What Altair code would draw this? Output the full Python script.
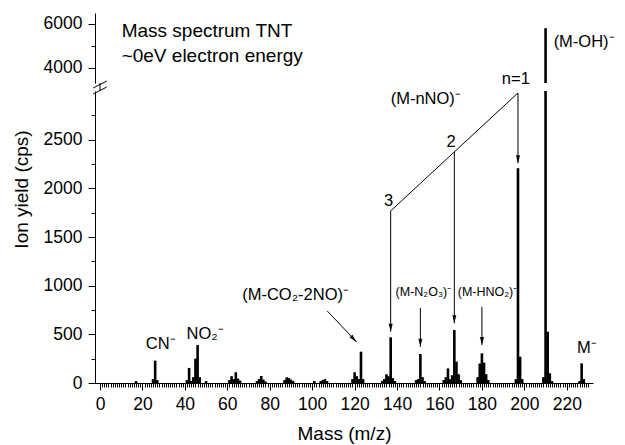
import altair as alt
import pandas as pd

# ---------------- data ----------------
mass = [17, 25, 26, 27, 41, 42, 43, 44, 45, 46, 47, 50,
        61, 62, 63, 64, 65, 66, 74, 75, 76, 77, 78,
        87, 88, 89, 90, 91, 101, 104, 105, 106, 107,
        119, 120, 121, 122, 123, 124,
        133, 134, 135, 136, 137, 138, 139,
        149, 150, 151, 152, 153,
        162, 163, 164, 165, 166, 167, 168, 169, 170,
        178, 179, 180, 181, 182, 183,
        196, 197, 198, 199,
        209, 210, 211, 212, 213,
        226, 227, 228]
cps = [20, 40, 230, 30, 30, 155, 20, 60, 250, 390, 60, 20,
       30, 70, 40, 110, 45, 25, 20, 40, 72, 35, 15,
       30, 58, 50, 35, 20, 20, 20, 30, 40, 20,
       40, 110, 70, 40, 322, 40,
       20, 40, 90, 70, 470, 50, 20,
       30, 40, 298, 60, 20,
       30, 60, 150, 40, 80, 545, 220, 90, 30,
       60, 200, 305, 210, 90, 30,
       40, 2207, 270, 40,
       60, 5805, 527, 100, 20,
       20, 202, 40]

x_major = list(range(0, 221, 20))
x_minor = list(range(0, 231, 1))
y_major_low = [0, 500, 1000, 1500, 2000, 2500]
y_minor_low = [250, 750, 1250, 1750, 2250, 2750]
y_major_hi = [4000, 6000]
y_minor_hi = [5000]

# annotation texts
lab_text = ["CN⁻", "NO₂⁻", "(M-CO₂-2NO)⁻", "(M-nNO)⁻", "n=1", "2", "3",
            "(M-OH)⁻", "M⁻", "(M-N₂O₃)⁻", "(M-HNO₂)⁻",
            "Mass spectrum TNT", "~0eV electron energy"]
lab_x = [21.6, 40.8, 67.0, 137.0, 189.4, 163.3, 133.9,
         213.8, 224.8, 139.3, 168.6, 10.2, 10.2]
lab_y = [349, 452, 853, 2866, 3072, 2425, 1819,
         3452, 308, 894, 894, 3555, 3298]
lab_size = [16.5, 16.5, 16.5, 16.5, 16.5, 16.5, 16.5,
            16.5, 16.5, 12.5, 12.5, 19, 19]

# annotation line segments (mass, cps)
seg_x = [197, 197, 167, 137, 151, 180, 107.1]
seg_y = [2980, 2980, 2374, 1768, 771, 781, 740]
seg_x2 = [137, 197, 167, 137, 151, 180, 121.0]
seg_y2 = [1768, 2258, 614, 527, 373, 391, 421]

# arrow heads
head_x = [197, 167, 137, 151, 180, 119.6]
head_y = [2299, 655, 568, 414, 432, 451]
head_angle = [0, 0, 0, 0, 0, 316]

# axis break marks
brk_x = [0, -3.2, -3.2]
brk_y = [3000, 2969, 3031]
brk_x2 = [0, 3.2, 3.2]
brk_y2 = [3082, 3041, 3103]

FONT = "Liberation Sans"

spec = pd.DataFrame({"mass": mass, "cps": cps})
labels = pd.DataFrame({"x": lab_x, "y": lab_y, "text": lab_text, "size": lab_size})
segs = pd.DataFrame({"x": seg_x, "y": seg_y, "x2": seg_x2, "y2": seg_y2})
heads = pd.DataFrame({"x": head_x, "y": head_y, "angle": head_angle})
brks = pd.DataFrame({"x": brk_x, "y": brk_y, "x2": brk_x2, "y2": brk_y2})

X_SCALE = alt.Scale(domain=[0, 230], nice=False, zero=False)


def y_low(clamp=False):
    return alt.Scale(domain=[0, 3000], range=[370, 78], nice=False, zero=False, clamp=clamp)


def y_hi():
    return alt.Scale(domain=[3300, 6500], range=[70, 0], nice=False, zero=False, clamp=True)


x_none = alt.X("mass:Q", scale=X_SCALE, axis=None)

lower = alt.Chart(spec).mark_bar(color="black", size=2.6, orient="vertical").encode(
    x=alt.X("mass:Q", scale=X_SCALE,
            axis=alt.Axis(orient="bottom", values=x_major, tickSize=7, labelPadding=5,
                          title="Mass (m/z)", titlePadding=12, labelFlush=False,
                          labelOverlap=False, grid=False, format="d")),
    y=alt.Y("cps:Q", scale=y_low(True),
            axis=alt.Axis(orient="left", values=y_major_low, tickSize=7, labelPadding=6,
                          title="Ion yield (cps)", titlePadding=12, titleY=176, grid=False,
                          format="d")),
)

upper = alt.Chart(spec).transform_filter("datum.cps > 3300").mark_bar(
    color="black", size=2.6, orient="vertical").encode(
    x=x_none,
    y=alt.Y("cps:Q", scale=y_hi(),
            axis=alt.Axis(orient="left", values=y_major_hi, tickSize=7, labelPadding=6,
                          title=None, grid=False, format="d")),
    y2=alt.datum(3300),
)

minor = alt.Chart(spec).mark_point(opacity=0).encode(
    x=alt.X("mass:Q", scale=X_SCALE,
            axis=alt.Axis(orient="bottom", values=x_minor, tickSize=4, labels=False,
                          domain=False, title=None, grid=False)),
    y=alt.Y("cps:Q", scale=y_low(True),
            axis=alt.Axis(orient="left", values=y_minor_low, tickSize=4, labels=False,
                          domain=False, title=None, grid=False)),
)

minor_hi = alt.Chart(spec).transform_filter("datum.cps > 3300").mark_point(opacity=0).encode(
    x=x_none,
    y=alt.Y("cps:Q", scale=y_hi(),
            axis=alt.Axis(orient="left", values=y_minor_hi, tickSize=4, labels=False,
                          domain=False, title=None, grid=False)),
)

rules = alt.Chart(segs).mark_rule(color="black", strokeWidth=1).encode(
    x=alt.X("x:Q", scale=X_SCALE, axis=None), x2="x2:Q",
    y=alt.Y("y:Q", scale=y_low(), axis=None), y2="y2:Q",
)

breaks = alt.Chart(brks).mark_rule(color="black", strokeWidth=1).encode(
    x=alt.X("x:Q", scale=X_SCALE, axis=None), x2="x2:Q",
    y=alt.Y("y:Q", scale=y_low(), axis=None), y2="y2:Q",
)

arrowheads = alt.Chart(heads).mark_point(
    shape="M-0.5,-1L0.5,-1L0,1Z", filled=True, color="black", size=64, opacity=1, strokeWidth=0
).encode(
    x=alt.X("x:Q", scale=X_SCALE, axis=None),
    y=alt.Y("y:Q", scale=y_low(), axis=None),
    angle=alt.Angle("angle:Q", scale=None),
)

texts = alt.Chart(labels).mark_text(
    font=FONT, color="black", align="left", baseline="alphabetic"
).encode(
    x=alt.X("x:Q", scale=X_SCALE, axis=None),
    y=alt.Y("y:Q", scale=y_low(), axis=None),
    text="text:N",
    size=alt.Size("size:Q", scale=None),
)

chart = alt.layer(
    lower, upper, minor, minor_hi, rules, breaks, arrowheads, texts
).resolve_scale(y="independent").resolve_axis(x="independent", y="independent").properties(
    width=498, height=370,
    autosize=alt.AutoSizeParams(type="none"),
    padding={"left": 95, "top": 13, "right": 32, "bottom": 62},
).configure_view(stroke=None).configure_axis(
    labelFont=FONT, titleFont=FONT, labelFontSize=17.5, titleFontSize=19,
    labelColor="black", titleColor="black", domainColor="black", tickColor="black",
    titleFontWeight="normal", domainWidth=1, tickWidth=1,
)

chart.save("out.html", embed_options={"renderer": "svg", "actions": False})
